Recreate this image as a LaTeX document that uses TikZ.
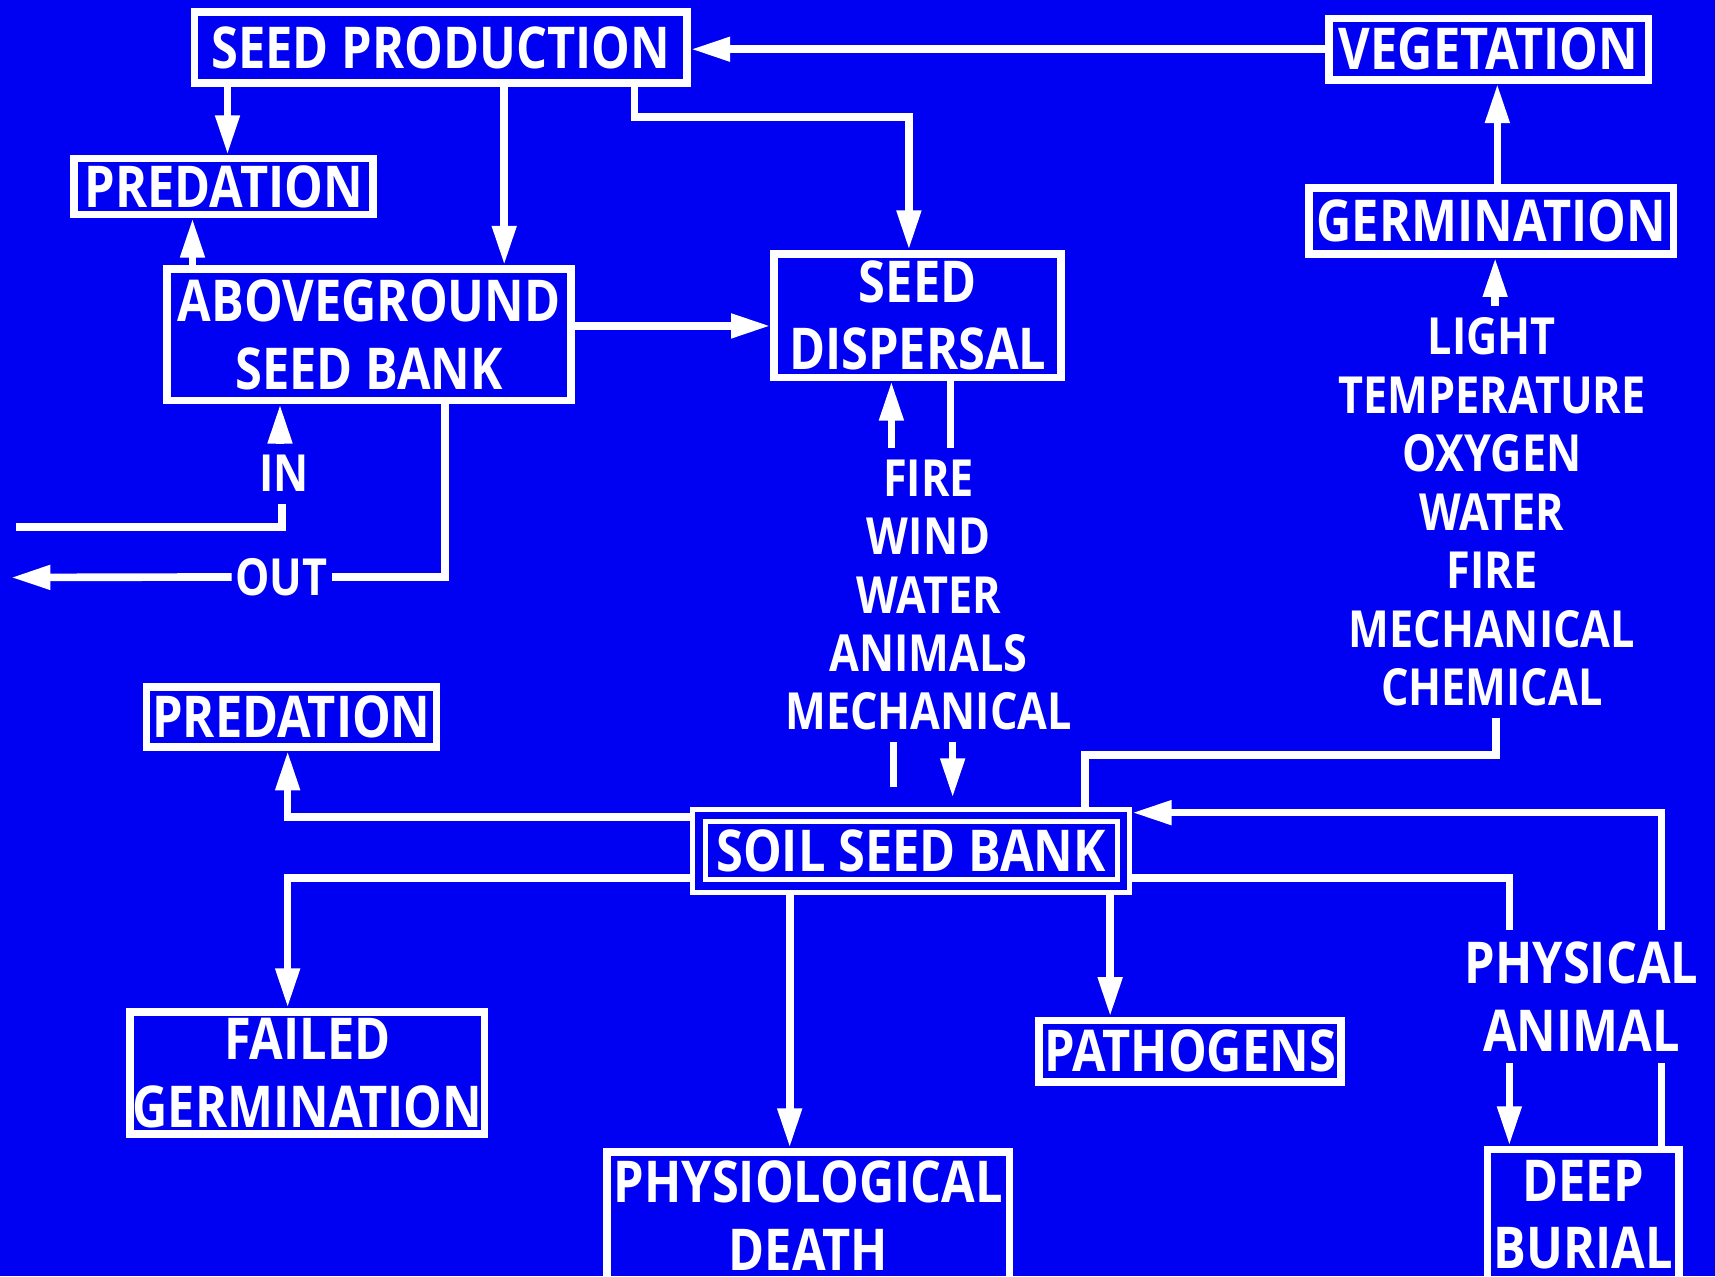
\documentclass[tikz,border=0pt]{standalone}
\usepackage{fontspec}
\setmainfont{Open Sans}[FakeStretch=0.845]
\usetikzlibrary{arrows.meta,calc,positioning}
\definecolor{bankblue}{RGB}{0,0,242}
\newcommand{\boxfont}{\bfseries\fontsize{15}{17.6}\selectfont}
\newcommand{\factorfont}{\bfseries\fontsize{13.3}{15.2}\selectfont}

\begin{document}
\begin{tikzpicture}[x=0.01cm,y=-0.01cm,line join=miter,
  >={Triangle[length=0.36cm,width=0.21cm]},
  box/.style={draw=white,line width=0.07cm,text=white,align=center,
   inner sep=0pt,font=\boxfont},
  factor/.style={text=white,align=center,inner xsep=0.03cm,
   inner ysep=0.1cm,font=\factorfont},
  flow/.style={white,line width=0.07cm}]
 \useasboundingbox (0,0) rectangle (1568,1167);
 \fill[bankblue] (0,0) rectangle (1568,1167);
 % boxes
 \node[box,minimum width=4.50cm,minimum height=0.65cm]
  (seedprod) at (403,43.5) {SEED PRODUCTION};
 \node[box,minimum width=2.92cm,minimum height=0.56cm]
  (veg) at (1361,45) {VEGETATION};
 \node[box,minimum width=2.73cm,minimum height=0.51cm]
  (predtop) at (204.5,170.5) {PREDATION};
 \node[box,minimum width=3.33cm,minimum height=0.60cm]
  (germ) at (1363.5,202) {GERMINATION};
 \node[box,minimum width=3.69cm,minimum height=1.20cm]
  (above) at (337.5,306) {ABOVEGROUND\\SEED BANK};
 \node[box,minimum width=2.62cm,minimum height=1.13cm]
  (disp) at (839,288.5) {SEED\\DISPERSAL};
 \node[box,minimum width=2.65cm,minimum height=0.55cm]
  (predlow) at (266.5,655.5) {PREDATION};
 \node[box,double=bankblue,double distance=0.07cm,line width=0.045cm,
  outer sep=0.08cm,minimum width=3.88cm,minimum height=0.645cm]
  (soil) at (833,777.75) {SOIL SEED BANK};
 \node[box,minimum width=3.235cm,minimum height=1.12cm]
  (failed) at (281,981) {FAILED\\GERMINATION};
 \node[box,minimum width=2.76cm,minimum height=0.56cm]
  (patho) at (1088,961) {PATHOGENS};
 \node[box,minimum width=3.68cm,minimum height=1.17cm]
  (physio) at (739,1111.5) {PHYSIOLOGICAL\\DEATH};
 \node[box,minimum width=1.75cm,minimum height=1.19cm]
  (burial) at (1447.5,1110.5) {DEEP\\BURIAL};
 % factor labels
 \node[factor] (inlbl) at (260,433) {IN};
 \node[factor] (outlbl) at (257.5,527.5) {OUT};
 \node[factor] (dispfac) at (849,544)
  {FIRE\\WIND\\WATER\\ANIMALS\\MECHANICAL};
 \node[factor] (germfac) at (1364,468)
  {LIGHT\\TEMPERATURE\\OXYGEN\\WATER\\FIRE\\MECHANICAL\\CHEMICAL};
 \node[factor,font=\boxfont] (burfac) at (1446,911.5) {PHYSICAL\\ANIMAL};
 \coordinate (inend) at (15,482);
 \coordinate (outend) at (10,528);
 % top part
 \draw[flow,->] (veg.west) -- (veg.west -| seedprod.east);
 \draw[flow,->] (seedprod.south -| 208,0) -- (predtop.north -| 208,0);
 \draw[flow,->] (seedprod.south -| 461,0) -- (above.north -| 461,0);
 \draw[flow,->] (seedprod.south -| 580,0) |- (831,107)
  -- (disp.north -| 831,0);
 \draw[flow,->] (above.north -| 176,0) -- (predtop.south -| 176,0);
 \draw[flow,->] (above.east |- 0,298) -- (disp.west |- 0,298);
 \draw[flow,->] (germ.north -| 1369,0) -- (veg.south -| 1369,0);
 \draw[flow,->] (germfac.north -| 1367,0) -- (germ.south -| 1367,0);
 \draw[flow] (inend) -| (inlbl.south -| 258,0);
 \draw[flow,->] (inlbl.north -| 256,0) -- (above.south -| 256,0);
 \draw[flow] (above.south -| 407,0) |- (outlbl.east);
 \draw[flow,->] (outlbl.west) -- (outend);
 \draw[flow,->] (dispfac.north -| 815,0) -- (disp.south -| 815,0);
 \draw[flow] (disp.south -| 869,0) -- (dispfac.north -| 869,0);
 % soil seed bank
 \draw[flow] (soil.north -| 817,0) ++(0,-18) -- (dispfac.south -| 817,0);
 \draw[flow,->] (dispfac.south -| 871,0) -- ($(soil.north -| 871,0)+(0,-8)$);
 \draw[flow] (germfac.south -| 1368,0) |- (992,690) -- (soil.north -| 992,0);
 \draw[flow] (burial.north -| 1519,0) -- (burfac.south -| 1519,0);
 \draw[flow,->] (burfac.north -| 1519,0) |- (soil.east |- 0,743);
 \draw[flow] (soil.east |- 0,803) -| (burfac.north -| 1380,0);
 \draw[flow,->] (burfac.south -| 1380,0) -- (burial.north -| 1380,0);
 \draw[flow,->] (soil.west |- 0,747) -| (predlow.south -| 263,0);
 \draw[flow,->] (soil.west |- 0,803) -| (failed.north -| 263,0);
 \draw[flow,->] (soil.south -| 722,0) -- (physio.north -| 722,0);
 \draw[flow,->] (soil.south -| 1015,0) -- (patho.north -| 1015,0);
\end{tikzpicture}
\end{document}
